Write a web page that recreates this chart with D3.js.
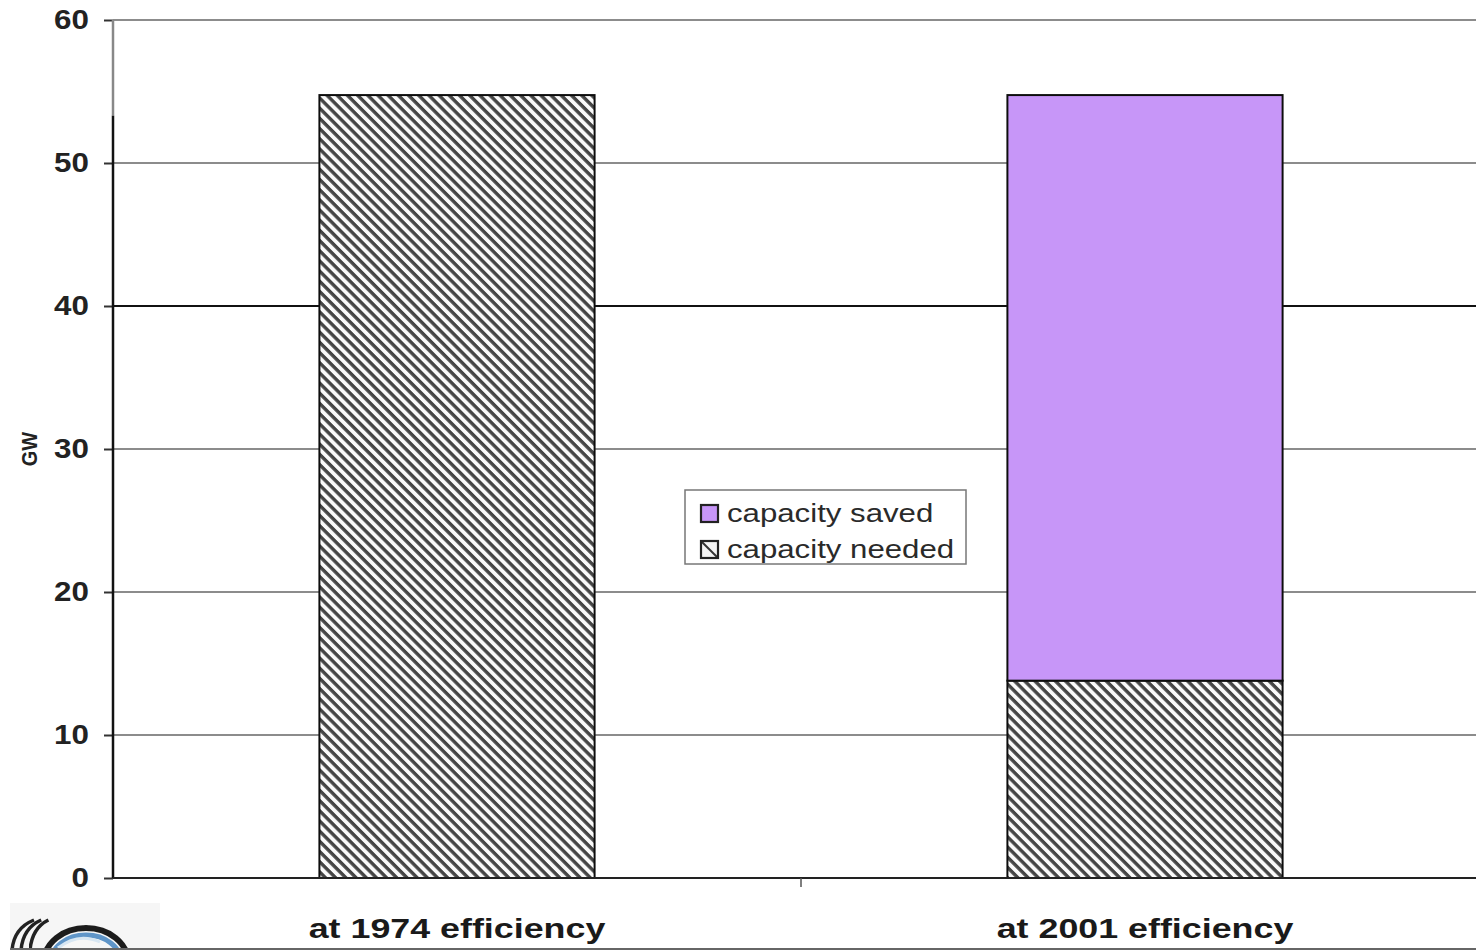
<!DOCTYPE html>
<html>
<head>
<meta charset="utf-8">
<script src="https://cdn.jsdelivr.net/npm/d3@7"></script>
<style>
  html, body { margin: 0; padding: 0; background: #fff; }
  svg { display: block; }
  text { font-family: "Liberation Sans", Arial, sans-serif; }
</style>
</head>
<body>
<svg id="chart" width="1476" height="950"></svg>
<script>
// Generating capacity (GW) by efficiency scenario
const categories = ["at 1974 efficiency", "at 2001 efficiency"];
const capacityNeeded = [54.75, 13.8];
const capacitySaved = [0, 40.95];
const yTicks = [0, 10, 20, 30, 40, 50, 60];
const seriesNames = ["capacity saved", "capacity needed"];

const W = 1476, H = 950;
const plot = { left: 113, right: 1489, top: 20, bottom: 878 };

const svg = d3.select("#chart");

// Diagonal hatch fill (lines running top-left to bottom-right)
const defs = svg.append("defs");
const pat = defs.append("pattern")
  .attr("id", "hatch")
  .attr("patternUnits", "userSpaceOnUse")
  .attr("width", 7.2).attr("height", 7.2)
  .attr("patternTransform", "rotate(45)");
pat.append("rect").attr("width", 7.2).attr("height", 7.2).attr("fill", "#fafafa");
pat.append("rect").attr("width", 7.2).attr("height", 3.4).attr("fill", "#454545");

const smallPat = defs.append("pattern")
  .attr("id", "hatchSmall")
  .attr("patternUnits", "userSpaceOnUse")
  .attr("width", 20).attr("height", 20);
smallPat.append("rect").attr("width", 20).attr("height", 20).attr("fill", "#f4f4f4");
smallPat.append("path").attr("d", "M0,0L20,20").attr("stroke", "#333").attr("stroke-width", 2);

const blur = defs.append("filter").attr("id", "soft").attr("x", "-5%").attr("y", "-5%").attr("width", "110%").attr("height", "110%");
blur.append("feGaussianBlur").attr("stdDeviation", 0.6);

const x = d3.scaleBand().domain(categories).range([plot.left, plot.right]).paddingInner(0).paddingOuter(0);
const y = d3.scaleLinear().domain([0, 60]).range([plot.bottom, plot.top]);
const barW = x.bandwidth() * 0.40;

// Gridlines
svg.append("g").selectAll("line")
  .data(yTicks.filter(d => d > 0))
  .join("line")
  .attr("x1", plot.left).attr("x2", W)
  .attr("y1", d => y(d)).attr("y2", d => y(d))
  .attr("stroke", d => d === 40 ? "#111" : "#8c8c8c")
  .attr("stroke-width", 2);

// Bars: needed (hatched) at base, saved (purple) stacked on top
const g = svg.append("g").attr("filter", "url(#soft)");
g.selectAll("rect.needed")
  .data(categories)
  .join("rect")
  .attr("class", "needed")
  .attr("x", d => x(d) + (x.bandwidth() - barW) / 2)
  .attr("width", barW)
  .attr("y", (d, i) => y(capacityNeeded[i]))
  .attr("height", (d, i) => y(0) - y(capacityNeeded[i]))
  .attr("fill", "url(#hatch)")
  .attr("stroke", "#111").attr("stroke-width", 2);

g.selectAll("rect.saved")
  .data(categories.filter((d, i) => capacitySaved[i] > 0))
  .join("rect")
  .attr("class", "saved")
  .attr("x", d => x(d) + (x.bandwidth() - barW) / 2)
  .attr("width", barW)
  .attr("y", d => { const i = categories.indexOf(d); return y(capacityNeeded[i] + capacitySaved[i]); })
  .attr("height", d => { const i = categories.indexOf(d); return y(capacityNeeded[i]) - y(capacityNeeded[i] + capacitySaved[i]); })
  .attr("fill", "#c796f8")
  .attr("stroke", "#111").attr("stroke-width", 2);

// Y axis
const yAxis = d3.axisLeft(y).tickValues(yTicks).tickSize(9).tickPadding(0).tickFormat(d3.format("d"));
const ya = svg.append("g").attr("transform", `translate(${plot.left},0)`).call(yAxis);
ya.select(".domain").remove();
ya.selectAll(".tick line").attr("stroke", "#333").attr("stroke-width", 2);
ya.selectAll(".tick text")
  .attr("x", null)
  .attr("text-anchor", "end")
  .attr("transform", "translate(-24,0) scale(1.12,1)")
  .attr("font-size", 28).attr("font-weight", "bold").attr("fill", "#222");
// Axis line: lighter at the top segment, dark below
ya.append("line").attr("x1", 0).attr("x2", 0).attr("y1", y(60)).attr("y2", y(53.3))
  .attr("stroke", "#888").attr("stroke-width", 2.5);
ya.append("line").attr("x1", 0).attr("x2", 0).attr("y1", y(53.3)).attr("y2", y(0))
  .attr("stroke", "#111").attr("stroke-width", 2.5);

// X axis
const xAxis = d3.axisBottom(x).tickValues([]).tickSize(0);
const xa = svg.append("g").attr("transform", `translate(0,${plot.bottom})`).call(xAxis);
xa.select(".domain").attr("stroke", "#222").attr("stroke-width", 2).attr("d", `M${plot.left},0H${W}`);
xa.append("line").attr("x1", x(categories[1])).attr("x2", x(categories[1])).attr("y1", 0).attr("y2", 9)
  .attr("stroke", "#555").attr("stroke-width", 1.5);
xa.selectAll("text.cat")
  .data(categories)
  .join("text")
  .attr("class", "cat")
  .attr("transform", d => `translate(${x(d) + x.bandwidth() / 2},60) scale(1.28,1)`)
  .attr("text-anchor", "middle")
  .attr("font-size", 28).attr("font-weight", "bold").attr("fill", "#1a1a1a")
  .text(d => d);

// Y axis title
svg.append("text")
  .attr("transform", `translate(37,${y(30)}) rotate(-90) scale(1.05,1.2)`)
  .attr("text-anchor", "middle")
  .attr("font-size", 19).attr("font-weight", "bold").attr("fill", "#222")
  .text("GW");

// Legend
const lg = svg.append("g").attr("transform", "translate(685,490)");
lg.append("rect").attr("width", 281).attr("height", 74)
  .attr("fill", "#fff").attr("stroke", "#777").attr("stroke-width", 1.5);
const legendFills = ["#c796f8", "url(#hatchSmall)"];
seriesNames.forEach((name, i) => {
  const row = lg.append("g").attr("transform", `translate(16,${15 + i * 36})`);
  row.append("rect").attr("width", 17).attr("height", 17)
    .attr("fill", legendFills[i]).attr("stroke", "#222").attr("stroke-width", 2.2);
  row.append("text").attr("transform", "translate(26,17) scale(1.2,1)")
    .attr("font-size", 26).attr("fill", "#2a2a2a").text(name);
});

// Partial logo mark in the lower-left corner
const logo = svg.append("g");
logo.append("rect").attr("x", 10).attr("y", 903).attr("width", 150).attr("height", 47).attr("fill", "#f6f6f6");
const lc = logo.append("g").attr("transform", "translate(86,962)").attr("filter", "url(#soft)");
lc.append("ellipse").attr("rx", 42).attr("ry", 34).attr("fill", "none").attr("stroke", "#1e1e1e").attr("stroke-width", 6);
lc.append("ellipse").attr("rx", 35).attr("ry", 27).attr("fill", "none").attr("stroke", "#5f95c8").attr("stroke-width", 5);
lc.append("path").attr("d", "M-28,-14 Q-8,-30 14,-20").attr("fill", "none").attr("stroke", "#d7e6f2").attr("stroke-width", 3);
[0, 9, 18].forEach(o => {
  logo.append("path")
    .attr("d", `M${12 + o},950 Q${14 + o},928 ${34 + o * 0.8},920`)
    .attr("fill", "none").attr("stroke", "#222").attr("stroke-width", 3.5).attr("filter", "url(#soft)");
});

// Bottom border line
svg.append("line").attr("x1", 10).attr("x2", W).attr("y1", 949).attr("y2", 949)
  .attr("stroke", "#666").attr("stroke-width", 2);
</script>
</body>
</html>
